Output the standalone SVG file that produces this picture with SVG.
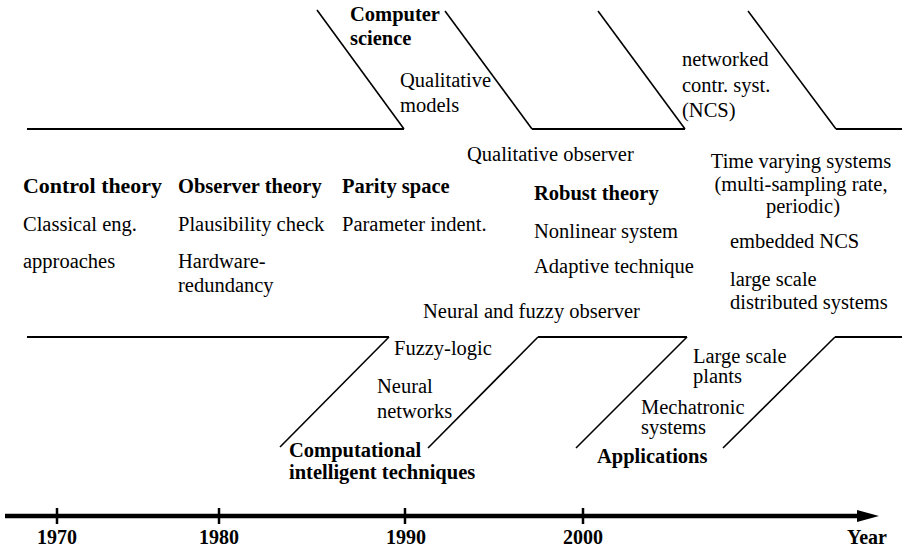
<svg xmlns="http://www.w3.org/2000/svg" width="902" height="549" viewBox="0 0 902 549">
<defs>
<style>
text{font-family:"Liberation Serif","Times New Roman",serif;font-size:20.5px;fill:#000}
.b{font-weight:bold}
.m{text-anchor:middle}
.y{font-weight:bold;font-size:20px;text-anchor:middle}
.h{stroke:#000;stroke-width:2;fill:none}
.d{stroke:#000;stroke-width:1.6;fill:none}
.ax{stroke:#000;stroke-width:4.5;fill:none}
.tk{stroke:#000;stroke-width:2.5;fill:none}
</style>
<marker id="arr" viewBox="0 0 22 12" refX="8" refY="6" markerWidth="22" markerHeight="12" orient="auto" markerUnits="userSpaceOnUse">
<path d="M0,0 L22,6 L0,12 z" fill="#000"/>
</marker>
</defs>
<rect width="902" height="549" fill="#fff"/>
<g id="connectors">
<line class="h" x1="27" y1="129" x2="404" y2="129"/>
<line class="d" x1="404" y1="129" x2="317" y2="10"/>
<line class="d" x1="445" y1="11" x2="532" y2="129"/>
<line class="h" x1="532" y1="129" x2="685" y2="129"/>
<line class="d" x1="685" y1="129" x2="598" y2="11"/>
<line class="d" x1="748" y1="11" x2="836" y2="129"/>
<line class="h" x1="836" y1="129" x2="902" y2="129"/>
<line class="h" x1="27" y1="337" x2="389" y2="337"/>
<line class="d" x1="389" y1="337" x2="280" y2="447"/>
<line class="d" x1="428" y1="448" x2="538" y2="337"/>
<line class="h" x1="538" y1="337" x2="687" y2="337"/>
<line class="d" x1="687" y1="337" x2="576" y2="448"/>
<line class="d" x1="723" y1="448" x2="835" y2="337"/>
<line class="h" x1="835" y1="337" x2="902" y2="337"/>
</g>
<g id="axis">
<line class="ax" x1="5" y1="516" x2="865" y2="516" marker-end="url(#arr)"/>
<line class="tk" x1="57" y1="508" x2="57" y2="524"/>
<line class="tk" x1="219" y1="508" x2="219" y2="524"/>
<line class="tk" x1="405" y1="508" x2="405" y2="524"/>
<line class="tk" x1="583" y1="508" x2="583" y2="524"/>
<text class="y" x="57" y="544">1970</text>
<text class="y" x="219" y="544">1980</text>
<text class="y" x="406" y="544">1990</text>
<text class="y" x="583" y="544">2000</text>
<text class="y" x="867" y="544">Year</text>
</g>
<g id="computer-science">
<text class="b" x="350" y="21">Computer</text>
<text class="b" x="350" y="45">science</text>
<text x="400" y="87">Qualitative</text>
<text x="400" y="112">models</text>
</g>
<g id="ncs">
<text x="682" y="66">networked</text>
<text x="682" y="92">contr. syst.</text>
<text x="682" y="117">(NCS)</text>
</g>
<g id="qual-observer"><text x="467" y="161">Qualitative observer</text></g>
<g id="control-theory">
<text class="b" x="23" y="193" textLength="139" lengthAdjust="spacingAndGlyphs">Control theory</text>
<text x="23" y="231">Classical eng.</text>
<text x="23" y="268">approaches</text>
</g>
<g id="observer-theory">
<text class="b" x="178" y="193">Observer theory</text>
<text x="178" y="231">Plausibility check</text>
<text x="178" y="268">Hardware-</text>
<text x="178" y="292">redundancy</text>
</g>
<g id="parity-space">
<text class="b" x="342" y="193">Parity space</text>
<text x="342" y="231">Parameter indent.</text>
</g>
<g id="robust-theory">
<text class="b" x="534" y="200">Robust theory</text>
<text x="534" y="238">Nonlinear system</text>
<text x="534" y="273">Adaptive technique</text>
</g>
<g id="time-varying">
<text class="m" x="801" y="168">Time varying systems</text>
<text class="m" x="801" y="191">(multi-sampling rate,</text>
<text class="m" x="803" y="213">periodic)</text>
<text x="730" y="248">embedded NCS</text>
<text x="730" y="286">large scale</text>
<text x="730" y="309">distributed systems</text>
</g>
<g id="neural-fuzzy"><text x="423" y="318">Neural and fuzzy observer</text></g>
<g id="computational">
<text x="394" y="355">Fuzzy-logic</text>
<text x="377" y="393">Neural</text>
<text x="377" y="418">networks</text>
<text class="b" x="289" y="457">Computational</text>
<text class="b" x="289" y="479">intelligent techniques</text>
</g>
<g id="applications">
<text x="693" y="363">Large scale</text>
<text x="693" y="383">plants</text>
<text x="641" y="414">Mechatronic</text>
<text x="641" y="434">systems</text>
<text class="b" x="597" y="463">Applications</text>
</g>
</svg>
